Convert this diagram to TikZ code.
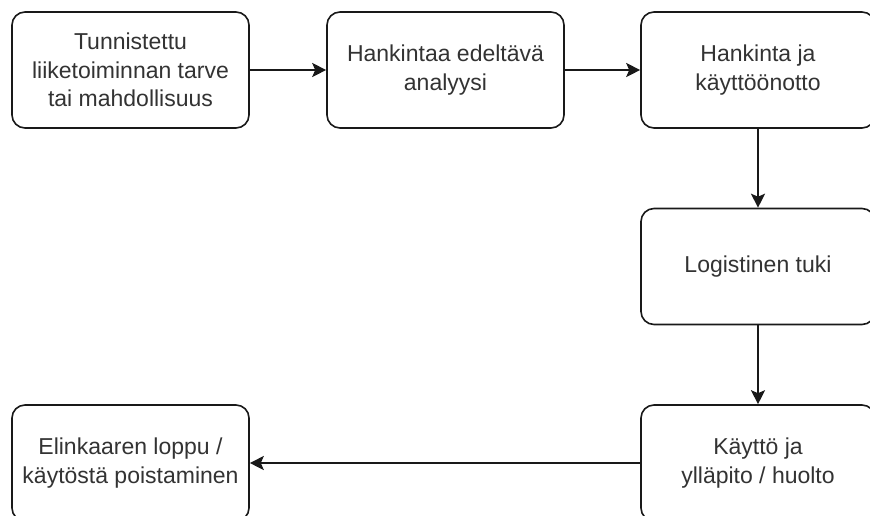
\documentclass[tikz,border=0pt]{standalone}
\usepackage{fontspec}
\setmainfont{Liberation Sans}
\usetikzlibrary{arrows.meta}
\begin{document}
\begin{tikzpicture}[x=1pt,y=-1pt,
  stage/.style={draw=black!90, line width=1.6pt, rounded corners=13pt,
    fill=white, minimum height=116pt, inner sep=0pt, align=center,
    text=black!80, font=\fontsize{23}{28.5}\selectfont},
  wide/.style={minimum width=237pt},
  narrow/.style={minimum width=234pt},
  flow/.style={draw=black!90, line width=1.6pt,
    -{Stealth[length=14pt,width=14pt,inset=3pt]}}]
\useasboundingbox (0,0) rectangle (870,515);
\clip (0,0) rectangle (870,515);
\node[stage,wide]   (need)    at (130.5,70)  {Tunnistettu\\liiketoiminnan tarve\\tai mahdollisuus};
\node[stage,wide]   (analysis) at (445.5,70) {Hankintaa edeltävä\\analyysi};
\node[stage,narrow] (acquire) at (758,70)    {Hankinta ja\\käyttöönotto};
\node[stage,narrow] (support) at (758,266.5) {Logistinen tuki};
\node[stage,narrow] (operate) at (758,463)   {Käyttö ja\\ylläpito / huolto};
\node[stage,wide]   (retire)  at (130.5,463) {Elinkaaren loppu /\\käytöstä poistaminen};
\draw[flow] (need) -- (analysis);
\draw[flow] (analysis) -- (acquire);
\draw[flow] (acquire) -- (support);
\draw[flow] (support) -- (operate);
\draw[flow] (operate) -- (retire);
\end{tikzpicture}
\end{document}
